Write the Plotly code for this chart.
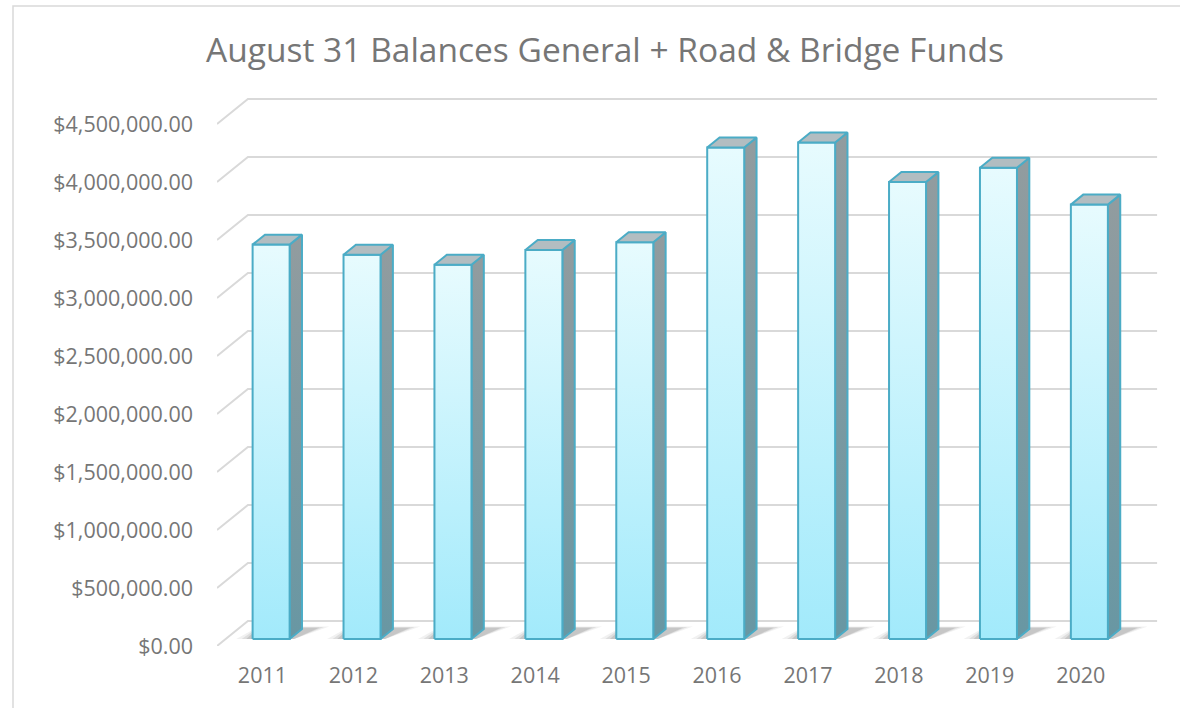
import plotly.graph_objects as go

# ---------------- data ----------------
years = ["2011", "2012", "2013", "2014", "2015", "2016", "2017", "2018", "2019", "2020"]
balances = [3400000, 3313000, 3226000, 3354000, 3420000, 4237000, 4280000, 3940000, 4063000, 3745000]
tick_values = [0, 500000, 1000000, 1500000, 2000000, 2500000, 3000000, 3500000, 4000000, 4500000]
title_text = "August 31 Balances General + Road & Bridge Funds"

# ---------------- 3D-look geometry (axis units) ----------------
DX, DY = 0.34, 215000       # full depth of the chart box
FRONT = 0.28                # depth fraction of bar front faces
BAR_DEPTH = 0.40            # depth fraction of bars
BAR_W = 0.407               # bar width in category units

EDGE = "#4bacc6"
GRID = "#d9d9d9"
TEXT = "#767676"

fig = go.Figure()

# back wall gridlines + side diagonals
gx, gy = [], []
x_left = -0.5
x_right = len(years) - 0.5
for t in tick_values:
    gx += [x_left, x_left + DX, x_right + DX, None]
    gy += [t, t + DY, t + DY, None]
fig.add_trace(go.Scatter(x=gx, y=gy, mode="lines", line=dict(color=GRID, width=2),
                         hoverinfo="skip", showlegend=False))

bdx, bdy = BAR_DEPTH * DX, BAR_DEPTH * DY
fx, fy = FRONT * DX, FRONT * DY

# floor shadows
for i, v in enumerate(balances):
    x0 = i + fx - BAR_W / 2
    x1 = x0 + BAR_W
    for grow, alpha in [(0.14, 0.07), (0.08, 0.10), (0.03, 0.14)]:
        sx = [x0 - grow - 0.04, x0 + bdx * 0.5, x1 + bdx + 0.16 + grow, x1 + 0.05, x0 - grow - 0.04]
        sy = [fy, fy + bdy * 1.1 + grow * 100000, fy + bdy * 1.1 + grow * 100000, fy, fy]
        fig.add_trace(go.Scatter(x=sx, y=sy, mode="lines", fill="toself",
                                 fillcolor=f"rgba(60,60,60,{alpha})", line=dict(width=0),
                                 hoverinfo="skip", showlegend=False))

# bars
top_x, top_y = [], []
for i, v in enumerate(balances):
    x0 = i + fx - BAR_W / 2
    x1 = x0 + BAR_W
    y0 = fy
    y1 = fy + v
    # side face
    fig.add_trace(go.Scatter(
        x=[x1, x1 + bdx, x1 + bdx, x1, x1], y=[y0, y0 + bdy, y1 + bdy, y1, y0],
        mode="lines", fill="toself",
        fillgradient=dict(type="vertical", colorscale=[[0, "#6897a3"], [1, "#929c9f"]],
                          start=y0, stop=y1 + bdy),
        line=dict(color=EDGE, width=2), hoverinfo="skip", showlegend=False))
    # front face
    fig.add_trace(go.Scatter(
        x=[x0, x1, x1, x0, x0], y=[y0, y0, y1, y1, y0],
        mode="lines", fill="toself",
        fillgradient=dict(type="vertical", colorscale=[[0, "#a2eafb"], [1, "#e7fbfe"]],
                          start=y0, stop=y1),
        line=dict(color=EDGE, width=2), hoverinfo="skip", showlegend=False))
    top_x += [x0, x0 + bdx, x1 + bdx, x1, x0, None]
    top_y += [y1, y1 + bdy, y1 + bdy, y1, y1, None]

fig.add_trace(go.Scatter(x=top_x, y=top_y, mode="lines", fill="toself", fillcolor="#b2bdc1",
                         line=dict(color=EDGE, width=2), hoverinfo="skip", showlegend=False))

# layout geometry in pixels
W, H = 1180, 708
L, R, T, B = 217, 22, 95, 62
pw, ph = W - L - R, H - T - B

def px_x(p):
    return (p - L) / pw

def px_y(p):
    return (H - B - p) / ph

fig.add_shape(type="rect", xref="paper", yref="paper",
              x0=px_x(13), x1=px_x(1200), y0=px_y(730), y1=px_y(6),
              line=dict(color="#d9d9d9", width=1.5), fillcolor="rgba(0,0,0,0)", layer="below")

fig.update_layout(
    width=W, height=H,
    margin=dict(l=L, r=R, t=T, b=B, pad=0),
    paper_bgcolor="white", plot_bgcolor="white",
    font=dict(family="Open Sans", color=TEXT),
    title=dict(text=title_text, x=605 / W, xref="container", xanchor="center",
               y=1 - 50 / H, yref="container", yanchor="middle",
               font=dict(family="Open Sans", size=33.5, color=TEXT)),
    showlegend=False,
    hovermode=False,
    xaxis=dict(range=[-0.5, len(years) - 0.5 + 0.35], tickmode="array",
               tickvals=list(range(len(years))), ticktext=years,
               showgrid=False, zeroline=False, showline=False, ticks="",
               tickfont=dict(size=21.5, color=TEXT), ticklabelstandoff=14, fixedrange=True),
    yaxis=dict(range=[0, 4750000], tickmode="array", tickvals=tick_values,
               tickformat="$,.2f", showgrid=False, zeroline=False, showline=False, ticks="",
               tickfont=dict(size=21.5, color=TEXT), ticklabelstandoff=23, fixedrange=True),
)

fig.write_html("out.html", config={"displayModeBar": False})
